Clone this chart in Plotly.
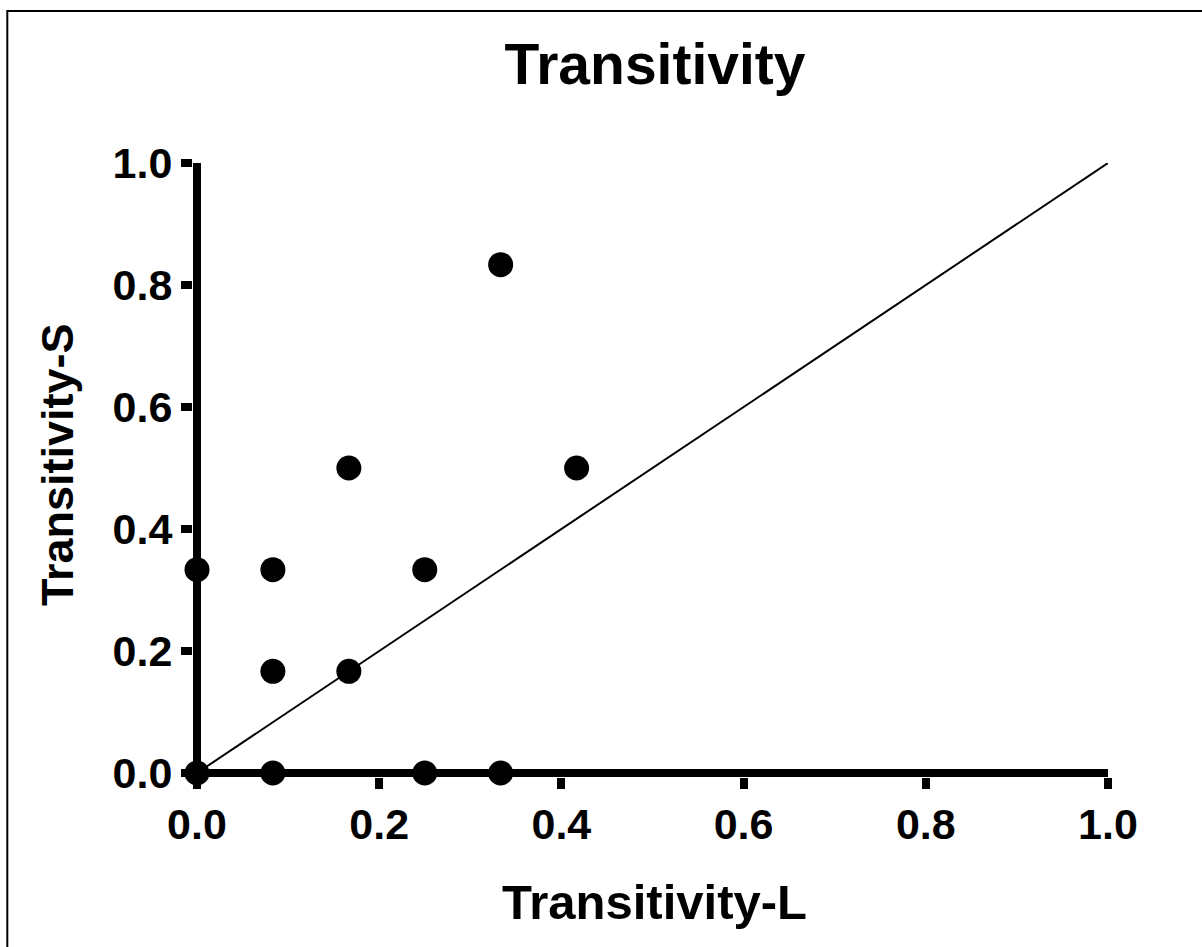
import plotly.graph_objects as go

# Data
trans_L = [0.0, 0.0, 0.0833, 0.0833, 0.0833, 0.1667, 0.1667, 0.25, 0.25, 0.3333, 0.3333, 0.4167]
trans_S = [0.0, 0.3333, 0.3333, 0.1667, 0.0, 0.5, 0.1667, 0.3333, 0.0, 0.8333, 0.0, 0.5]
identity_x = [0.0, 1.0]
identity_y = [0.0, 1.0]
tick_vals = [0.0, 0.2, 0.4, 0.6, 0.8, 1.0]
tick_text = ["0.0", "0.2", "0.4", "0.6", "0.8", "1.0"]

W, H = 1202, 947
L, R, T, B = 193, 94, 163, 170
pw, ph = W - L - R, H - T - B
dx = 4.0 / (pw - 4)
dy = 4.0 / (ph - 4)

FONT = "Liberation Sans"

fig = go.Figure()
fig.add_trace(go.Scatter(x=identity_x, y=identity_y, mode="lines",
                         line=dict(color="black", width=2), hoverinfo="skip",
                         showlegend=False, cliponaxis=False))
fig.add_trace(go.Scatter(x=trans_L, y=trans_S, mode="markers",
                         marker=dict(color="black", size=25, line=dict(width=0)),
                         showlegend=False, cliponaxis=False))

axis_common = dict(
    showgrid=False, showline=False, zeroline=True, zerolinecolor="black",
    zerolinewidth=8, ticks="outside", ticklen=11, tickwidth=8, tickcolor="black",
    tickvals=tick_vals, ticktext=tick_text,
    tickfont=dict(family=FONT, size=43, color="black", weight="bold"),
    layer="below traces", fixedrange=True,
)

fig.update_layout(
    width=W, height=H,
    margin=dict(l=L, r=R, t=T, b=B, autoexpand=False),
    paper_bgcolor="white", plot_bgcolor="white",
    xaxis=dict(range=[-dx, 1.0], ticklabelstandoff=-2, **axis_common),
    yaxis=dict(range=[-dy, 1.0], **axis_common),
    title=dict(text="Transitivity", x=655 / W, xanchor="center", xref="container",
               y=1 - 64 / H, yanchor="middle", yref="container",
               font=dict(family=FONT, size=57, color="black", weight="bold")),
    showlegend=False,
)

def px_to_paper_x(px):
    return (px - L) / pw

def px_to_paper_y(py):
    return (H - B - py) / ph

fig.add_annotation(text="Transitivity-L", x=px_to_paper_x(654), y=px_to_paper_y(902),
                   xref="paper", yref="paper", xanchor="center", yanchor="middle",
                   showarrow=False,
                   font=dict(family=FONT, size=49, color="black", weight="bold"))
fig.add_annotation(text="Transitivity-S", x=px_to_paper_x(57), y=px_to_paper_y(465),
                   xref="paper", yref="paper", xanchor="center", yanchor="middle",
                   showarrow=False, textangle=-90,
                   font=dict(family=FONT, size=45, color="black", weight="bold"))

fig.add_shape(type="rect", xref="paper", yref="paper",
              x0=px_to_paper_x(7.3), x1=px_to_paper_x(W + 20),
              y0=px_to_paper_y(H + 20), y1=px_to_paper_y(11),
              line=dict(color="black", width=2), fillcolor="rgba(0,0,0,0)", layer="above")

fig.write_html("out.html",
               config={"displayModeBar": False, "staticPlot": True},
               post_script="document.body.style.margin='0';document.body.style.overflow='hidden';")
